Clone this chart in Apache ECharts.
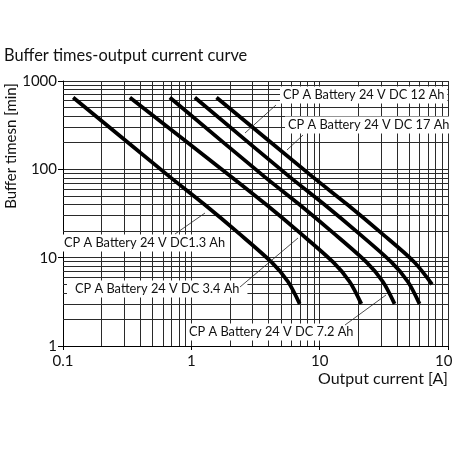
<!DOCTYPE html>
<html><head><meta charset="utf-8">
<script src="https://cdn.jsdelivr.net/npm/echarts@6/dist/echarts.min.js"></script>
<style>html,body{margin:0;padding:0;background:#fff}#c{width:452px;height:452px}</style>
</head><body><div id="c"></div>
<script>
// Data
const seriesNames = ['CP A Battery 24 V DC1.3 Ah','CP A Battery 24 V DC 3.4 Ah','CP A Battery 24 V DC 7.2 Ah','CP A Battery 24 V DC 12 Ah','CP A Battery 24 V DC 17 Ah'];
const current13 = [0.120, 0.680, 1.274, 2.313, 4.20, 5.67, 6.99];
const time13    = [650, 82.1, 39.7, 19.19, 8.94, 5.34, 3.0];
const current34 = [0.332, 2.055, 3.85, 6.99, 12.69, 17.12, 21.11];
const time34    = [650, 82.1, 39.7, 19.19, 8.94, 5.34, 3.0];
const current72 = [0.680, 3.73, 6.99, 12.69, 23.05, 31.1, 38.35];
const time72    = [650, 82.1, 39.7, 19.19, 8.94, 5.34, 3.0];
const current12 = [1.065, 5.84, 10.94, 19.87, 36.08, 48.7, 60.0];
const time12    = [650, 82.1, 39.7, 19.19, 8.94, 5.34, 3.0];
const current17 = [1.571, 8.82, 16.52, 30.0, 54.5, 75.1];
const time17    = [650, 82.1, 39.7, 19.19, 8.94, 5.0];
const xTicks = [0.1, 1, 10, 100];
const yTicks = [1, 10, 100, 1000];
const xMinorGrid = [0.2,0.3,0.4,0.5,0.6,0.7,0.8,0.9,2,3,4,5,6,7,8,9,20,30,40,50,60,70,80,90];
const yMinorGrid = [2,3,4,5,6,7,8,9,20,30,40,50,60,70,80,90,200,300,400,500,600,700,800,900];

const FONT = 'Lato';
const pairs = (xs, ys) => xs.map((x, i) => [x, ys[i]]);
const curves = [pairs(current13,time13), pairs(current34,time34), pairs(current72,time72), pairs(current12,time12), pairs(current17,time17)];

const gridColor = '#2a2a2a';
const chart = echarts.init(document.getElementById('c'), null, {renderer:'canvas'});

const annotations = [
  {text: seriesNames[3], x: 283, y: 95, pad:[2,3], line: [276,105,245,133]},
  {text: seriesNames[4], x: 288, y: 125, pad:[2,3], line: [303,135,287,150]},
  {text: seriesNames[0], x: 64, y: 243, pad:[2,2], line: [175,234,205,213]},
  {text: seriesNames[1], x: 75, y: 289, pad:[2,8], line: [240,287,298,238]},
  {text: seriesNames[2], x: 189, y: 332, pad:[2,3], line: [345,325,386,295]}
];
const graphics = [];
annotations.forEach(a => {
  graphics.push({type:'line', zlevel:1, z:4, silent:true, shape:{x1:a.line[0],y1:a.line[1],x2:a.line[2],y2:a.line[3]}, style:{stroke:'#222', lineWidth:0.8}});
  graphics.push({type:'text', zlevel:1, z:3, silent:true, x:a.x-a.pad[1], y:a.y, style:{text:a.text, fontFamily:FONT, fontSize:12.8, fill:'#111', align:'left', verticalAlign:'middle', backgroundColor:'#fff', padding:a.pad}});
});

const option = {
  animation: false,
  backgroundColor: '#fff',
  title: {text:'Buffer times-output current curve', left: 4, top: 48, padding: 0,
    textStyle:{fontFamily:FONT, fontSize:16.4, fontWeight:'normal', color:'#111'}},
  grid: {left: 63, right: 4, top: 81, bottom: 106, outerBoundsMode:'none', containLabel:false},
  xAxis: {type:'log', logBase:10, min: xTicks[0], max: xTicks[xTicks.length-1],
    name:'Output current [A]', nameLocation:'end', nameGap:0, nameMoveOverlap:false,
    nameTextStyle:{fontFamily:FONT, fontSize:16, color:'#111', align:'right', verticalAlign:'top', padding:[25,0,0,0]},
    axisLine:{lineStyle:{color:'#000', width:1}},
    axisTick:{show:true, length:4, lineStyle:{color:'#000'}},
    axisLabel:{fontFamily:FONT, fontSize:15, color:'#111', margin:8, formatter: v => String(v)},
    splitLine:{show:true, lineStyle:{color:gridColor, width:1}}},
  yAxis: {type:'log', logBase:10, min: yTicks[0], max: yTicks[yTicks.length-1],
    name:'Buffer timesn [min]', nameLocation:'middle', nameGap:44, nameMoveOverlap:false,
    nameTextStyle:{fontFamily:FONT, fontSize:15, color:'#111', padding:[0,0,0,135]},
    axisLine:{show:true, lineStyle:{color:'#000', width:1}},
    axisTick:{show:true, length:5, lineStyle:{color:'#000'}},
    axisLabel:{fontFamily:FONT, fontSize:15, color:'#111', margin:6, formatter: v => String(v)},
    splitLine:{show:true, lineStyle:{color:gridColor, width:1}}},
  graphic: graphics,
  series: [
    {type:'line', z:1, data:[], silent:true,
     markLine:{silent:true, symbol:['none','none'], label:{show:false}, animation:false,
       lineStyle:{color:gridColor, width:1, type:'solid'}, emphasis:{disabled:true},
       data: xMinorGrid.map(v => ({xAxis:v})).concat(yMinorGrid.map(v => ({yAxis:v})))}}
  ].concat(curves.map((d, i) => ({
    type:'line', name: seriesNames[i], z:5, data: d, smooth: 0.3, showSymbol:false, silent:true,
    lineStyle:{color:'#000', width:3.8}
  })))
};
chart.setOption(option);
</script></body></html>
